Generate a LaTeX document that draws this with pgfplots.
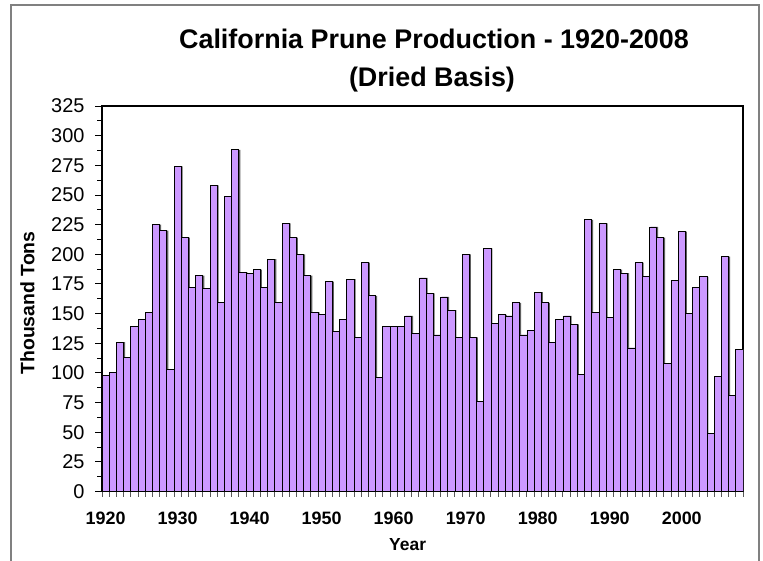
\documentclass[border=0pt]{standalone}
\usepackage{pgfplots}
\pgfplotsset{compat=1.18}
\usepackage{fontspec}
\setmainfont{Liberation Sans}
\definecolor{barfill}{HTML}{CC99FF}
\definecolor{framegray}{HTML}{808080}
\begin{document}
\begin{tikzpicture}
\begin{axis}[
  at={(102bp,69.5bp)}, anchor=south west,
  scale only axis, width=641bp, height=385.5bp,
  xmin=1919.5, xmax=2008.5, ymin=0, ymax=325,
  ybar, bar width=1,
  axis line style={black, line width=1.5bp},
  xtick={1920,1930,...,2000},
  minor xtick={1919.5,1920.5,...,2008.5},
  ytick={0,25,...,325},
  minor ytick={12.5,37.5,...,312.5},
  xtick pos=bottom, ytick pos=left,
  tick align=outside,
  major tick length=7bp, minor tick length=5bp,
  major x tick style={draw=none},
  minor x tick style={framegray!70!black, line width=0.9bp},
  y tick style={black, line width=0.9bp},
  /pgf/number format/assume math mode=true,
  xticklabel={\pgfmathprintnumber[precision=0,1000 sep={}]{\tick}},
  xticklabel style={font=\fontsize{18}{20}\selectfont\bfseries, yshift=-10bp},
  yticklabel style={font=\fontsize{20}{22}\selectfont, xshift=-7bp},
  xlabel={Year},
  xlabel style={at={(axis description cs:0.4768,-0.1388)}, anchor=center, font=\fontsize{17.5}{20}\selectfont\bfseries},
  ylabel={Thousand Tons},
  ylabel style={at={(axis description cs:-0.1162,0.489)}, anchor=center, rotate=0, font=\fontsize{19.5}{21}\selectfont\bfseries},
]
\addplot[fill=gray!75!black, draw=none, bar shift=0.2] coordinates {
(1920,98)(1921,100)(1922,126)(1923,113)(1924,139)(1925,145)(1926,151)(1927,225)(1928,220)(1929,103)
(1930,274)(1931,214)(1932,172)(1933,182)(1934,171)(1935,258)(1936,159)(1937,249)(1938,288)(1939,185)
(1940,184)(1941,187)(1942,172)(1943,196)(1944,159)(1945,226)(1946,214)(1947,200)(1948,182)(1949,151)
(1950,149)(1951,177)(1952,135)(1953,145)(1954,179)(1955,130)(1956,193)(1957,165)(1958,96)(1959,139)
(1960,139)(1961,139)(1962,148)(1963,133)(1964,180)(1965,167)(1966,132)(1967,164)(1968,153)(1969,130)
(1970,200)(1971,130)(1972,76)(1973,205)(1974,142)(1975,149)(1976,148)(1977,159)(1978,132)(1979,136)
(1980,168)(1981,159)(1982,126)(1983,145)(1984,148)(1985,141)(1986,99)(1987,229)(1988,151)(1989,226)
(1990,147)(1991,187)(1992,184)(1993,121)(1994,193)(1995,181)(1996,223)(1997,214)(1998,108)(1999,178)
(2000,219)(2001,150)(2002,172)(2003,181)(2004,49)(2005,97)(2006,198)(2007,81)(2008,120)
};
\addplot[fill=barfill, draw=black, line width=0.8bp, bar shift=0] coordinates {
(1920,98)(1921,100)(1922,126)(1923,113)(1924,139)(1925,145)(1926,151)(1927,225)(1928,220)(1929,103)
(1930,274)(1931,214)(1932,172)(1933,182)(1934,171)(1935,258)(1936,159)(1937,249)(1938,288)(1939,185)
(1940,184)(1941,187)(1942,172)(1943,196)(1944,159)(1945,226)(1946,214)(1947,200)(1948,182)(1949,151)
(1950,149)(1951,177)(1952,135)(1953,145)(1954,179)(1955,130)(1956,193)(1957,165)(1958,96)(1959,139)
(1960,139)(1961,139)(1962,148)(1963,133)(1964,180)(1965,167)(1966,132)(1967,164)(1968,153)(1969,130)
(1970,200)(1971,130)(1972,76)(1973,205)(1974,142)(1975,149)(1976,148)(1977,159)(1978,132)(1979,136)
(1980,168)(1981,159)(1982,126)(1983,145)(1984,148)(1985,141)(1986,99)(1987,229)(1988,151)(1989,226)
(1990,147)(1991,187)(1992,184)(1993,121)(1994,193)(1995,181)(1996,223)(1997,214)(1998,108)(1999,178)
(2000,219)(2001,150)(2002,172)(2003,181)(2004,49)(2005,97)(2006,198)(2007,81)(2008,120)
};
\end{axis}
\node[anchor=base, font=\fontsize{27}{30}\selectfont\bfseries] at (434bp,512bp) {California Prune Production - 1920-2008};
\node[anchor=base, font=\fontsize{27}{30}\selectfont\bfseries] at (432bp,474bp) {(Dried Basis)};
\draw[framegray, line width=1.3bp] (11bp,-10bp) -- (11bp,556bp) -- (759bp,556bp) -- (759bp,-10bp);
\pgfresetboundingbox
\useasboundingbox (0,0) rectangle (763bp,561bp);
\end{tikzpicture}
\end{document}
